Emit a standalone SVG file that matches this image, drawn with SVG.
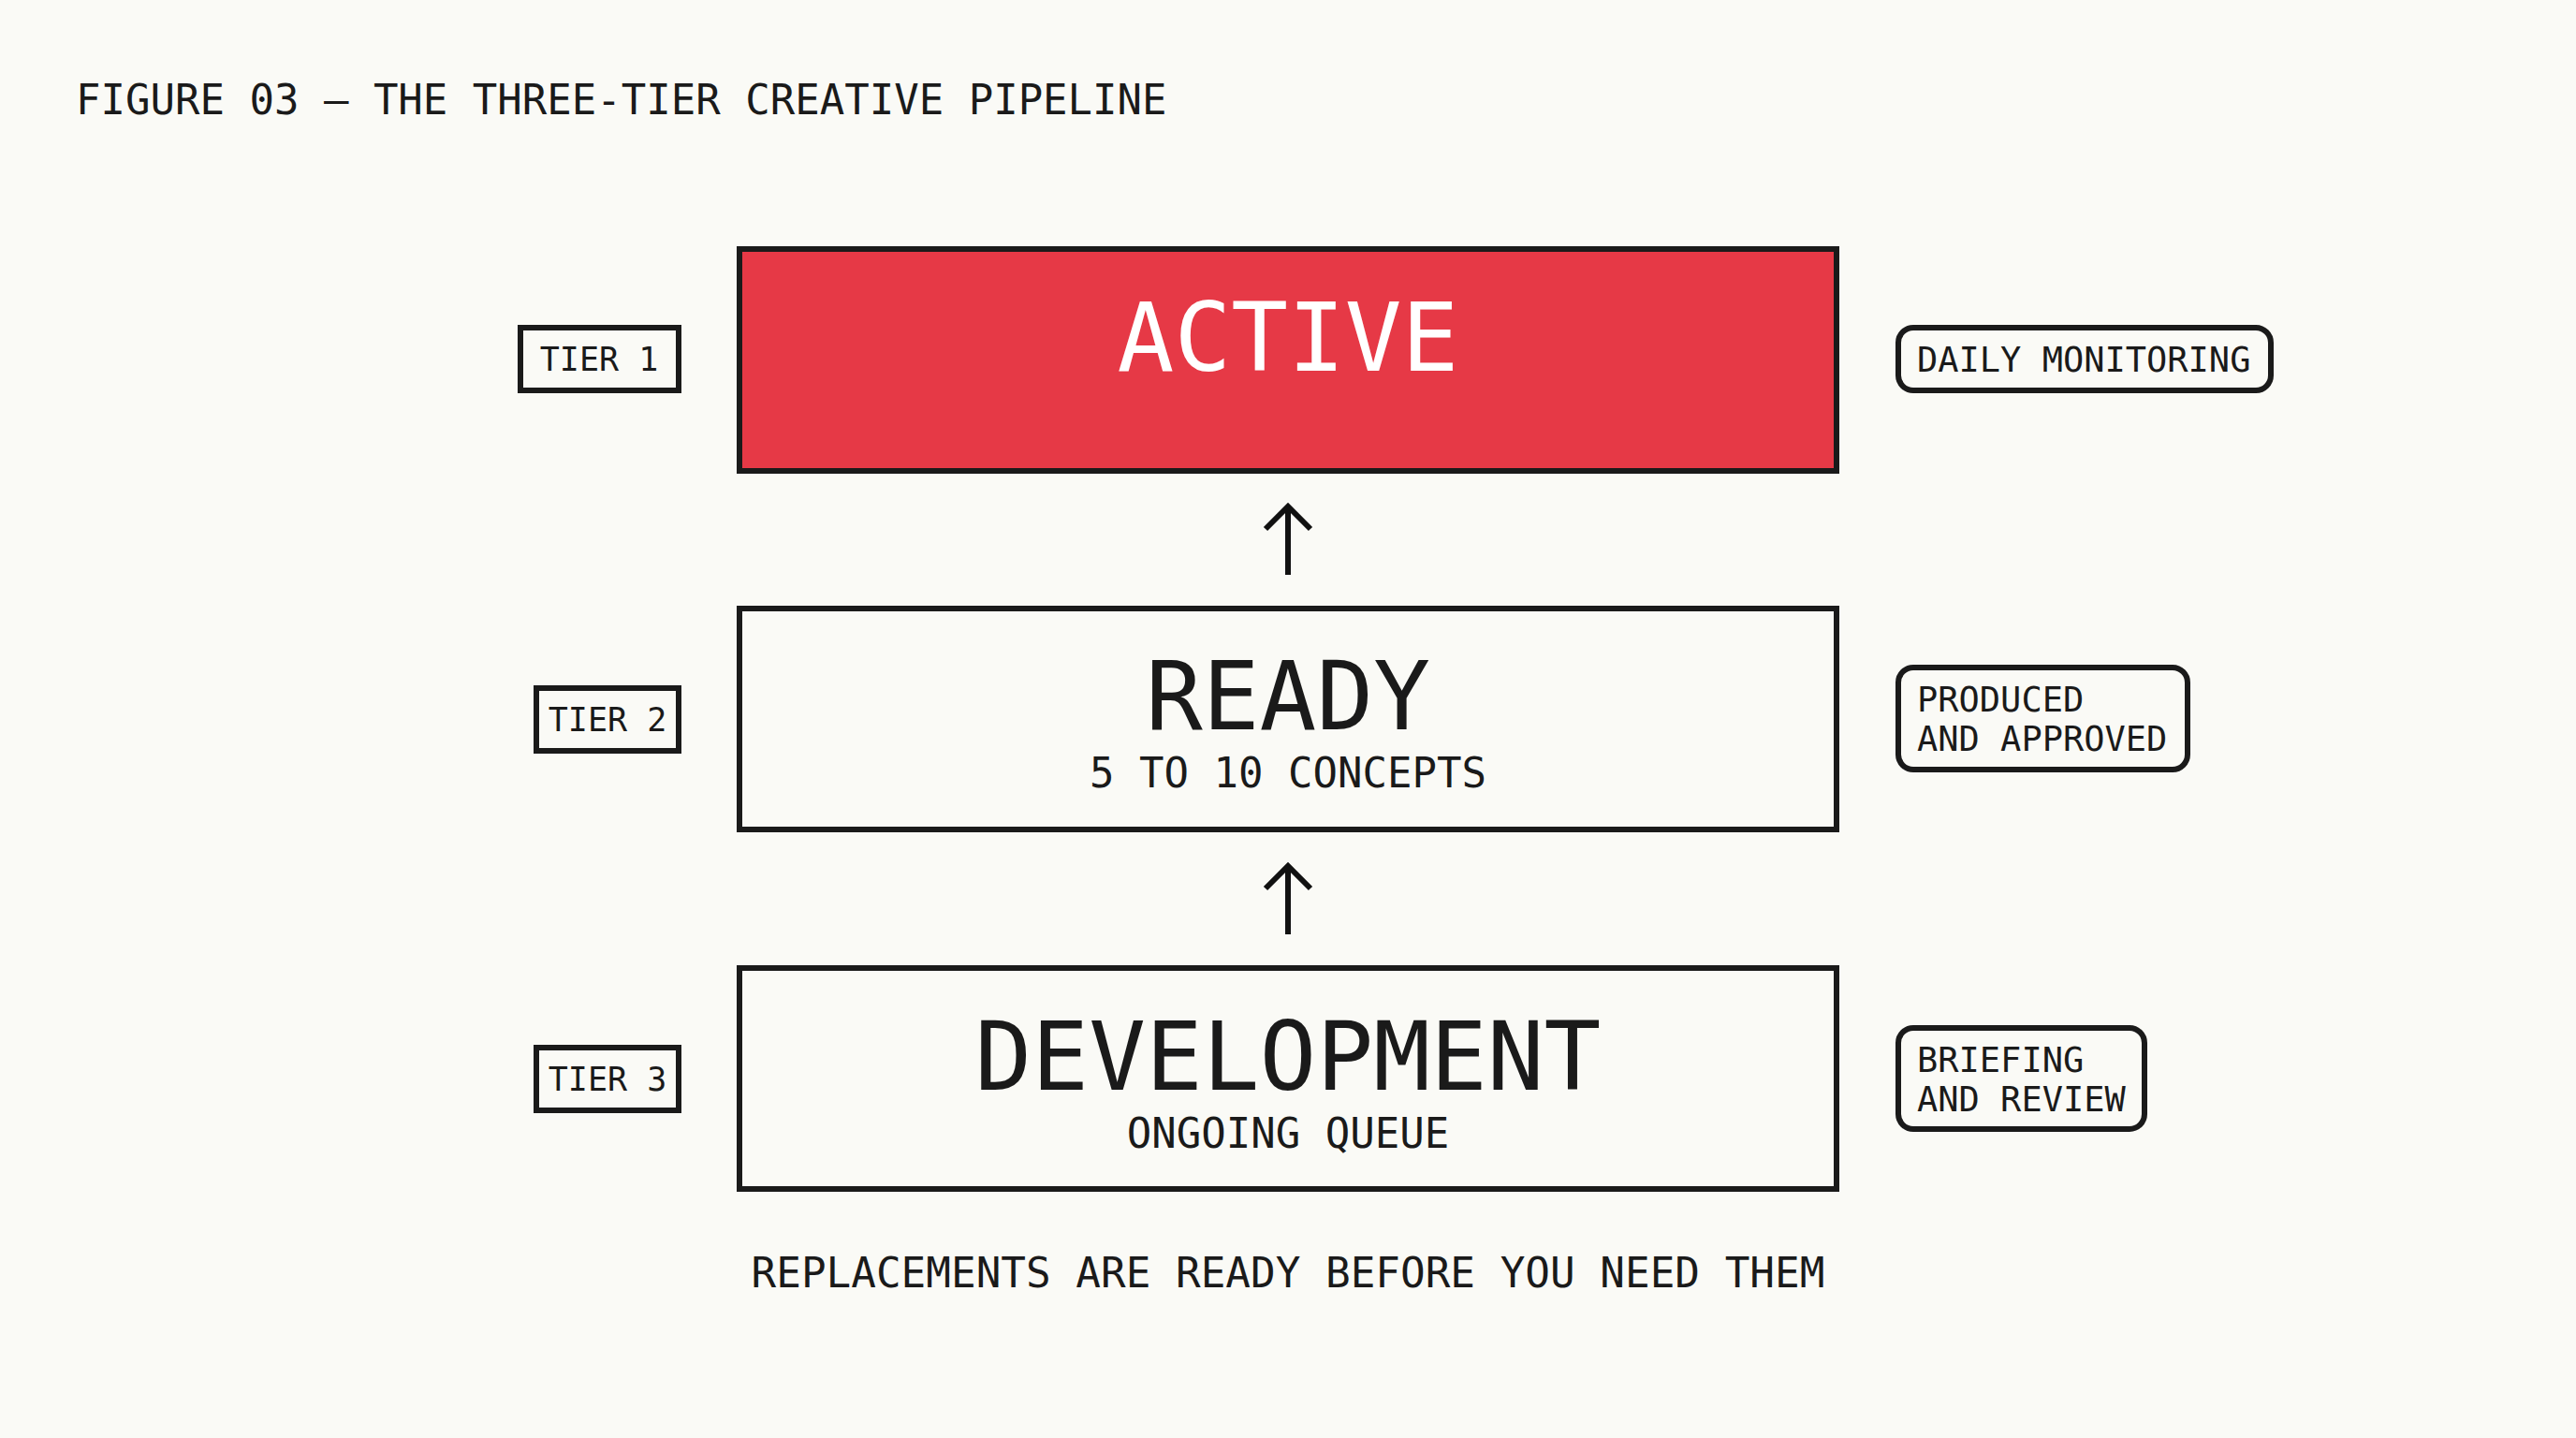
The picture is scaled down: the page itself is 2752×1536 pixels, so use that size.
<svg xmlns="http://www.w3.org/2000/svg" width="2752" height="1536" viewBox="0 0 2752 1536">
<style>
text{font-family:"DejaVu Sans Mono","Liberation Mono",monospace;fill:#1a1a1a}
.box{fill:#fafaf6;stroke:#1a1a1a;stroke-width:6}
.tag{fill:#fafaf6;stroke:#1a1a1a;stroke-width:6}
.big{font-size:101px;text-anchor:middle}
.sub{font-size:44px;text-anchor:middle}
.lbl{font-size:35px;text-anchor:middle}
.note{font-size:37px}
.arr{fill:none;stroke:#111;stroke-width:6}
</style>
<rect width="2752" height="1536" fill="#fafaf6"/>
<text id="title" x="81" y="122" style="font-size:44px">FIGURE 03 — THE THREE-TIER CREATIVE PIPELINE</text>

<g id="tier1">
<rect class="box" x="790" y="266" width="1172" height="237" style="fill:#e63946"/>
<text class="big" x="1376" y="396" style="fill:#ffffff">ACTIVE</text>
</g>
<g id="tier2">
<rect class="box" x="790" y="650" width="1172" height="236"/>
<text class="big" x="1376" y="779">READY</text>
<text class="sub" x="1376" y="841">5 TO 10 CONCEPTS</text>
</g>
<g id="tier3">
<rect class="box" x="790" y="1034" width="1172" height="236"/>
<text class="big" x="1376" y="1164">DEVELOPMENT</text>
<text class="sub" x="1376" y="1226">ONGOING QUEUE</text>
</g>

<g id="label-tier1">
<rect class="tag" x="556" y="350" width="169" height="67"/>
<text class="lbl" x="640" y="396">TIER 1</text>
</g>
<g id="label-tier2">
<rect class="tag" x="573" y="735" width="152" height="67"/>
<text class="lbl" x="649" y="781">TIER 2</text>
</g>
<g id="label-tier3">
<rect class="tag" x="573" y="1119" width="152" height="67"/>
<text class="lbl" x="649" y="1165">TIER 3</text>
</g>

<g id="note-tier1">
<rect class="tag" x="2028" y="350" width="398" height="67" rx="16"/>
<text class="note" x="2048" y="397">DAILY MONITORING</text>
</g>
<g id="note-tier2">
<rect class="tag" x="2028" y="713" width="309" height="109" rx="16"/>
<text class="note" x="2048" y="760">PRODUCED</text>
<text class="note" x="2048" y="802">AND APPROVED</text>
</g>
<g id="note-tier3">
<rect class="tag" x="2028" y="1098" width="263" height="108" rx="16"/>
<text class="note" x="2048" y="1145">BRIEFING</text>
<text class="note" x="2048" y="1187">AND REVIEW</text>
</g>

<g id="connectors">
<path class="arr" d="M1376 614 V540 M1352 565 L1376 541 L1400 565"/>
<path class="arr" d="M1376 998 V924 M1352 949 L1376 925 L1400 949"/>
</g>

<text id="footer" x="1376" y="1375" style="font-size:44.3px;text-anchor:middle">REPLACEMENTS ARE READY BEFORE YOU NEED THEM</text>
</svg>
